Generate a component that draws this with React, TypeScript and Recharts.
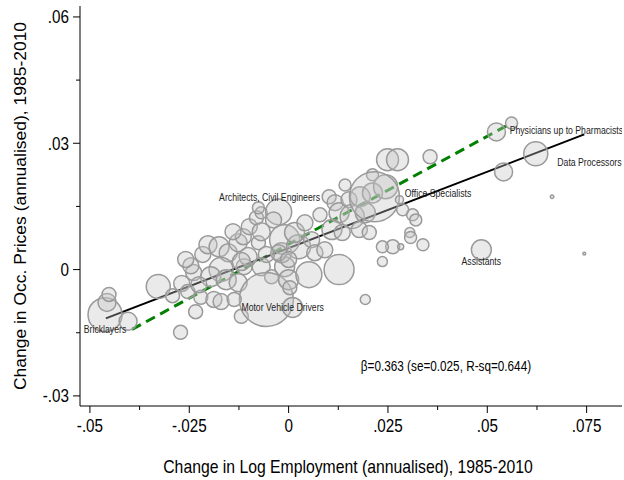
import { ScatterChart, Scatter, XAxis, YAxis, ZAxis, ReferenceLine } from "recharts";

const FONT = "'Liberation Sans', Arial, Helvetica, sans-serif";

// one entry per occupation: change in log employment, change in price, cell weight (~ radius^2)
const empChange = [
  -0.0462, -0.0457, -0.0452, -0.0404, -0.0272, -0.0328, -0.0292, -0.0269, -0.0254, -0.0239,
  -0.0246, -0.0259, -0.0216, -0.0203, -0.0175, -0.0152, -0.0127, -0.0114, -0.0099, -0.0081,
  -0.0069, -0.0025, -0.0038, -0.0076, -0.014, -0.0076, -0.017, -0.0196, -0.0157, -0.0127,
  -0.0112, -0.0069, -0.0043, -0.001, -0.0221, -0.0234, -0.0188, -0.017, -0.0119, -0.0056,
  0.001, -0.0018, -0.001, 0.0025, 0.0015, 0.0041, 0.0058, 0.0066, 0.0091, -0.0025,
  0.0, 0.0, 0.0003, 0.0051, 0.0127, 0.0102, 0.0117, 0.0127, 0.0152, 0.016,
  0.018, 0.0193, 0.0211, 0.0211, 0.0244, 0.0216, 0.0109, 0.0135, 0.0178, 0.0203,
  0.0249, 0.0274, 0.0356, 0.0279, 0.0287, 0.0312, 0.032, 0.0305, 0.0307, 0.0338,
  0.0262, 0.0282, 0.0236, 0.0236, 0.0193, 0.0523, 0.0561, 0.0622, 0.0541, 0.0663,
  0.0744, 0.0485, -0.0056, -0.0102, 0.0079, 0.0142, -0.0069, -0.0119, -0.0226, -0.0137,
];
const priceChange = [
  -0.0107, -0.0078, -0.0059, -0.0123, -0.0149, -0.004, -0.0062, -0.0033, -0.0052, -0.0007,
  0.0009, 0.0024, 0.0036, 0.0059, 0.0054, 0.004, 0.0064, 0.0078, 0.0102, 0.0123,
  0.0135, 0.0137, 0.0118, 0.0147, 0.009, 0.0064, 0.0, -0.0017, -0.0024, -0.0031,
  0.0007, 0.0007, -0.0017, 0.0007, -0.0066, -0.01, -0.0071, -0.0076, -0.0111, -0.0071,
  -0.009, 0.004, 0.0071, 0.0054, 0.0088, 0.0111, 0.0071, 0.004, 0.0047, 0.004,
  0.0024, -0.0024, -0.0043, -0.0012, 0.0, 0.0173, 0.0159, 0.0135, 0.0166, 0.0126,
  0.0173, 0.0135, 0.0182, 0.0225, 0.0197, 0.0173, 0.0095, 0.0088, 0.0095, 0.0088,
  0.0261, 0.0261, 0.0268, 0.0166, 0.0142, 0.013, 0.0118, 0.0088, 0.0076, 0.0059,
  0.0054, 0.0054, 0.0019, 0.0054, -0.0071, 0.0327, 0.0348, 0.0275, 0.0232, 0.0173,
  0.0038, 0.0047, 0.0036, 0.0031, 0.013, 0.0201, 0.009, 0.0019, -0.0036, -0.0071,
];
const weight = [
  289, 81, 49, 81, 49, 144, 49, 64, 49, 64,
  64, 64, 64, 81, 100, 81, 81, 64, 64, 49,
  36, 169, 64, 36, 64, 49, 144, 100, 100, 81,
  64, 81, 49, 100, 49, 49, 64, 64, 49, 729,
  100, 100, 225, 144, 100, 64, 64, 64, 64, 64,
  64, 100, 49, 169, 225, 49, 64, 100, 64, 144,
  100, 100, 100, 36, 144, 625, 100, 64, 64, 49,
  121, 121, 49, 16, 36, 36, 36, 25, 36, 36,
  49, 9, 25, 36, 25, 81, 36, 144, 81, 3,
  2, 100, 64, 81, 49, 36, 81, 81, 64, 49,
];

const occupations = empChange.map((x, i) => ({ x, y: priceChange[i], z: weight[i] }));

// weighted fit (black) and comparison fit (green dashed) end points
const fitLine = [
  { x: -0.046, y: -0.0116 },
  { x: 0.0744, y: 0.0321 },
];
const altLine = [
  { x: -0.0394, y: -0.0142 },
  { x: 0.0561, y: 0.0348 },
];

const labelNames = [
  "Physicians up to Pharmacists",
  "Data Processors",
  "Office Specialists",
  "Architects, Civil Engineers",
  "Assistants",
  "Motor Vehicle Drivers",
  "Bricklayers",
];
const labelX = [0.0699, 0.0757, 0.0376, -0.0048, 0.0485, -0.0015, -0.0462];
const labelY = [0.0332, 0.0256, 0.0182, 0.0171, 0.0019, -0.0088, -0.0142];
const labels = labelNames.map((name, i) => ({ name, x: labelX[i], y: labelY[i] }));

const note = [{ name: "β=0.363 (se=0.025, R-sq=0.644)", x: 0.0396, y: -0.023 }];

const xMajor = [-0.05, -0.025, 0, 0.025, 0.05, 0.075];
const xMinor = [-0.0375, -0.0125, 0.0125, 0.0375, 0.0625];
const yMajor = [-0.03, 0, 0.03, 0.06];
const yMinor = [-0.015, 0.015, 0.045];

const SQUEEZE = 0.83;

const fmt = (v: number) =>
  v === 0 ? "0" : (v < 0 ? "-" : "") + String(Math.abs(v)).replace(/^0/, "");

// narrow text: the original uses a condensed-looking face
function NText({ x, y, size, anchor = "middle", sx = SQUEEZE, fill = "#000", children }: any) {
  return (
    <text
      transform={`translate(${x},${y}) scale(${sx},1)`}
      textAnchor={anchor}
      dominantBaseline="central"
      fontSize={size}
      fontFamily={FONT}
      fill={fill}
    >
      {children}
    </text>
  );
}

function XTick({ x, y, payload }: any) {
  const major = xMajor.includes(payload.value);
  return (
    <g>
      <line x1={x} x2={x} y1={y} y2={y + (major ? 7 : 4)} stroke="#000" />
      {major && (
        <NText x={x} y={y + 20} size={17.5} sx={0.87}>
          {fmt(payload.value)}
        </NText>
      )}
    </g>
  );
}

function YTick({ x, y, payload }: any) {
  const major = yMajor.includes(payload.value);
  return (
    <g>
      <line x1={x} x2={x - (major ? 7 : 4)} y1={y} y2={y} stroke="#000" />
      {major && (
        <NText x={x - 11} y={y} size={17.5} sx={0.87} anchor="end">
          {fmt(payload.value)}
        </NText>
      )}
    </g>
  );
}

export default function App() {
  return (
    <div style={{ position: "absolute", left: 0, top: 0, background: "#fff" }}>
      <ScatterChart width={624} height={480} margin={{ top: 6, right: 2, bottom: 0, left: 0 }}>
        <XAxis
          type="number"
          dataKey="x"
          domain={[-0.0525, 0.0839]}
          ticks={[...xMajor, ...xMinor]}
          interval={0}
          allowDataOverflow
          height={74}
          tickSize={0}
          tickMargin={0}
          tick={<XTick />}
          axisLine={{ stroke: "#000" }}
          label={{
            content: ({ viewBox }: any) => (
              <NText x={viewBox.x + viewBox.width / 2 - 3} y={viewBox.y + 60} size={19}>
                Change in Log Employment (annualised), 1985-2010
              </NText>
            ),
          }}
        />
        <YAxis
          type="number"
          dataKey="y"
          domain={[-0.0324, 0.0626]}
          ticks={[...yMajor, ...yMinor]}
          interval={0}
          allowDataOverflow
          width={80}
          tickSize={0}
          tickMargin={0}
          tick={<YTick />}
          axisLine={{ stroke: "#000" }}
          label={{
            content: ({ viewBox }: any) => {
              const cx = viewBox.x + 21;
              const cy = viewBox.y + viewBox.height / 2;
              return (
                <text
                  transform={`translate(${cx},${cy}) rotate(-90) scale(1,0.9)`}
                  textAnchor="middle"
                  dominantBaseline="central"
                  fontSize={17.5}
                  fontFamily={FONT}
                  fill="#000"
                >
                  Change in Occ. Prices (annualised), 1985-2010
                </text>
              );
            },
          }}
        />
        <ZAxis type="number" dataKey="z" domain={[0, 729]} range={[0, 729 * Math.PI]} />
        <Scatter
          data={occupations}
          fill="#c4c4c4"
          fillOpacity={0.35}
          stroke="#9a9a9a"
          strokeWidth={1.5}
          isAnimationActive={false}
        />
        <ReferenceLine segment={altLine} stroke="#008000" strokeWidth={3} strokeDasharray="10 6" />
        <ReferenceLine segment={fitLine} stroke="#000" strokeWidth={2} />
        <Scatter
          data={labels}
          isAnimationActive={false}
          shape={(p: any) => (
            <NText x={p.cx} y={p.cy} size={11} sx={0.79} fill="#222">
              {p.payload.name}
            </NText>
          )}
        />
        <Scatter
          data={note}
          isAnimationActive={false}
          shape={(p: any) => (
            <NText x={p.cx} y={p.cy} size={14} sx={0.84}>
              {p.payload.name}
            </NText>
          )}
        />
      </ScatterChart>
    </div>
  );
}
